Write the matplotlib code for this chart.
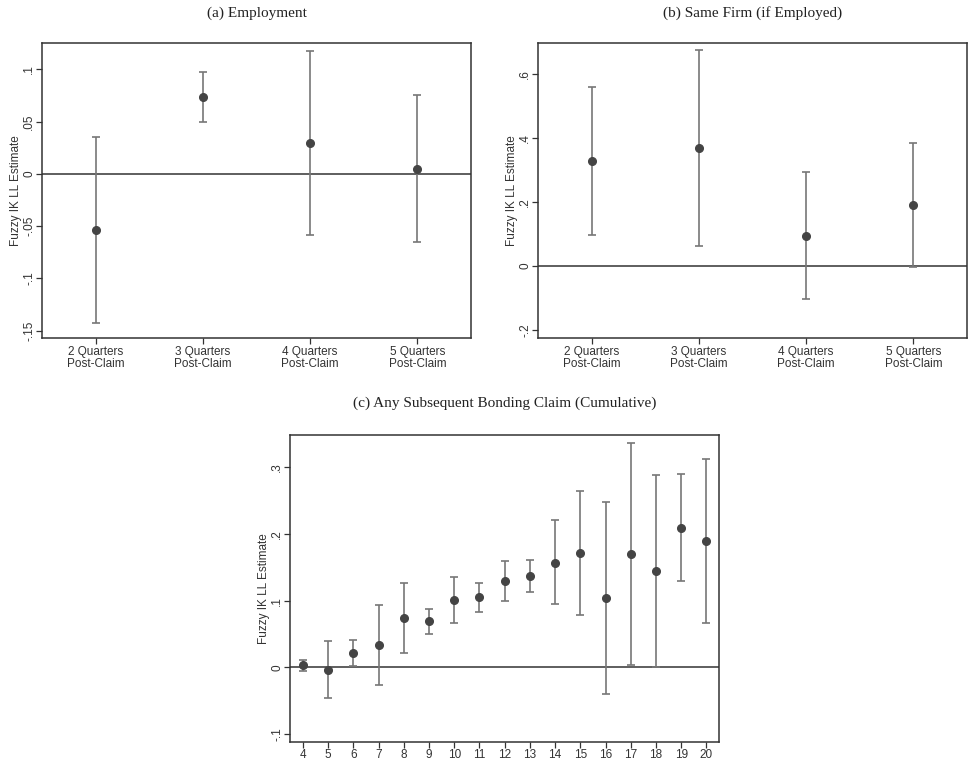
import matplotlib.pyplot as plt

# Panel (a): employment
quarters = ["2 Quarters\nPost-Claim", "3 Quarters\nPost-Claim",
            "4 Quarters\nPost-Claim", "5 Quarters\nPost-Claim"]
emp_est = [-0.0534, 0.0735, 0.0297, 0.0048]
emp_lo = [-0.1428, 0.0498, -0.0581, -0.0652]
emp_hi = [0.0355, 0.0974, 0.1179, 0.0751]

# Panel (b): same firm (if employed)
firm_est = [0.3276, 0.3683, 0.0939, 0.1909]
firm_lo = [0.096, 0.0616, -0.1043, -0.002]
firm_hi = [0.5592, 0.675, 0.2932, 0.3839]

# Panel (c): any subsequent bonding claim (cumulative)
horizon = list(range(4, 21))
claim_est = [0.0035, -0.0035, 0.022, 0.033, 0.074, 0.069, 0.101, 0.1055, 0.1295,
             0.137, 0.157, 0.1715, 0.1035, 0.1705, 0.1445, 0.2085, 0.19]
claim_lo = [-0.005, -0.0455, 0.0015, -0.027, 0.022, 0.0505, 0.067, 0.0835, 0.0995,
            0.113, 0.095, 0.0785, -0.0395, 0.004, 0.0005, 0.129, 0.067]
claim_hi = [0.0115, 0.039, 0.0415, 0.0935, 0.127, 0.088, 0.136, 0.127, 0.1595,
            0.161, 0.2205, 0.2645, 0.2475, 0.337, 0.289, 0.2895, 0.313]

plt.rcParams['font.family'] = ['Liberation Sans', 'DejaVu Sans']

fig = plt.figure(figsize=(9.68, 7.59), dpi=100)
ax_a = fig.add_axes([0.0434, 0.5547, 0.4432, 0.3887])
ax_b = fig.add_axes([0.5558, 0.5547, 0.4432, 0.3887])
ax_c = fig.add_axes([0.2999, 0.0224, 0.4429, 0.4049])


def draw(ax, x, est, lo, hi):
    yerr = [[e - l for e, l in zip(est, lo)], [h - e for e, h in zip(est, hi)]]
    ax.axhline(0, color='#333333', lw=1.1, zorder=1)
    ax.errorbar(x, est, yerr=yerr, fmt='o', color='#444444', ecolor='#777777',
                elinewidth=1.2, capsize=3, capthick=1.2, markersize=5.5, zorder=3)
    for s in ax.spines.values():
        s.set_color('#333333')
        s.set_linewidth(1.1)
    ax.tick_params(direction='out', length=4, width=0.9, color='#333333',
                   labelsize=8.5, labelcolor='#333333')
    ax.tick_params(axis='x', pad=2)
    ax.tick_params(axis='y', labelrotation=90, pad=1)
    ax.set_ylabel("Fuzzy IK LL Estimate", fontsize=8.5, color='#333333', labelpad=1)


def fmt(v):
    s = f"{v:g}"
    return s.replace("0.", ".") if s != "0" else s


pos = [1, 2, 3, 4]

draw(ax_a, pos, emp_est, emp_lo, emp_hi)
ax_a.set_xlim(0.5, 4.5)
ax_a.set_ylim(-0.157, 0.1252)
a_ticks = [-0.15, -0.1, -0.05, 0, 0.05, 0.1]
ax_a.set_yticks(a_ticks)
ax_a.set_yticklabels([fmt(v) for v in a_ticks], va='center')
ax_a.set_xticks(pos)
ax_a.set_xticklabels(quarters, linespacing=1.0)

draw(ax_b, pos, firm_est, firm_lo, firm_hi)
ax_b.set_xlim(0.5, 4.5)
ax_b.set_ylim(-0.2254, 0.698)
b_ticks = [-0.2, 0, 0.2, 0.4, 0.6]
ax_b.set_yticks(b_ticks)
ax_b.set_yticklabels([fmt(v) for v in b_ticks], va='center')
ax_b.set_xticks(pos)
ax_b.set_xticklabels(quarters, linespacing=1.0)

draw(ax_c, horizon, claim_est, claim_lo, claim_hi)
ax_c.set_xlim(3.5, 20.5)
ax_c.set_ylim(-0.112, 0.349)
c_ticks = [-0.1, 0, 0.1, 0.2, 0.3]
ax_c.set_yticks(c_ticks)
ax_c.set_yticklabels([fmt(v) for v in c_ticks], va='center')
ax_c.set_xticks(horizon)
ax_c.tick_params(axis='x', pad=1)

# Panel titles in a serif face
serif = ['Liberation Serif', 'DejaVu Serif']
fig.text(0.2655, 0.983, "(a) Employment", ha='center', va='center',
         fontsize=11, family=serif, color='#222222')
fig.text(0.7774, 0.983, "(b) Same Firm (if Employed)", ha='center', va='center',
         fontsize=11, family=serif, color='#222222')
fig.text(0.521, 0.469, "(c) Any Subsequent Bonding Claim (Cumulative)", ha='center',
         va='center', fontsize=11, family=serif, color='#222222')

fig.savefig("out.png", dpi=100)
